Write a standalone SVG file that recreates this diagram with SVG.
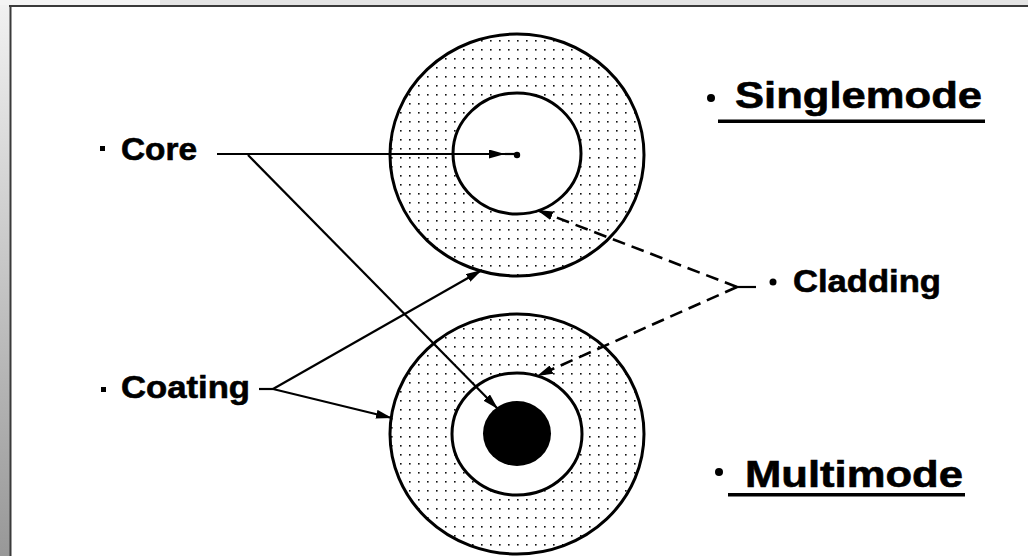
<svg xmlns="http://www.w3.org/2000/svg" width="1028" height="556" viewBox="0 0 1028 556">
  <style>
    .lbl { font-family: "Liberation Sans", Arial, sans-serif; font-weight: bold; fill: #000; stroke: #000; stroke-width: 0.6; }
    .small { font-size: 31px; }
    .big { font-size: 37px; }
    .ring { stroke: #000; stroke-width: 3; }
    .conn { fill: none; stroke: #000; stroke-width: 2.2; }
    .dash { fill: none; stroke: #000; stroke-width: 2.6; stroke-dasharray: 13 7; }
  </style>
  <defs>
    <linearGradient id="sideShade" x1="0" y1="0" x2="0" y2="1">
      <stop offset="0" stop-color="#f2f2f2"/>
      <stop offset="1" stop-color="#989898"/>
    </linearGradient>
    <pattern id="dots" width="9" height="9" patternUnits="userSpaceOnUse">
      <rect width="9" height="9" fill="#fff"/>
      <rect x="4" y="4" width="1.6" height="1.6" fill="#111"/>
    </pattern>
    <marker id="arrow" viewBox="0 0 16 9" refX="16" refY="4.5" markerWidth="16" markerHeight="9" markerUnits="userSpaceOnUse" orient="auto">
      <path d="M0,0 L16,4.5 L0,9 Z" fill="#000"/>
    </marker>
  </defs>

  <!-- window frame -->
  <rect x="0" y="0" width="1028" height="556" fill="#fff"/>
  <rect x="0" y="0" width="10" height="556" fill="url(#sideShade)"/>
  <rect x="0" y="0" width="1028" height="5" fill="#e4e4e4"/>
  <rect x="0" y="0" width="160" height="5" fill="#f4f4f4"/>
  <line x1="9" y1="6" x2="1028" y2="6" stroke="#3a3a3a" stroke-width="2"/>
  <line x1="10.5" y1="5" x2="10.5" y2="556" stroke="#3a3a3a" stroke-width="2"/>

  <!-- singlemode fiber -->
  <g id="singlemode-fiber">
    <ellipse cx="517" cy="155" rx="127" ry="121" fill="url(#dots)" class="ring"/>
    <ellipse cx="517" cy="153.5" rx="64" ry="60.5" fill="#fff" class="ring"/>
    <circle cx="517" cy="155" r="3.2" fill="#000"/>
  </g>

  <!-- multimode fiber -->
  <g id="multimode-fiber">
    <ellipse cx="517" cy="434" rx="127" ry="120" fill="url(#dots)" class="ring"/>
    <ellipse cx="517" cy="434" rx="65" ry="61" fill="#fff" class="ring"/>
    <ellipse cx="517" cy="433.5" rx="34" ry="32.5" fill="#000"/>
  </g>

  <!-- leader lines -->
  <g id="connectors">
    <path class="conn" d="M217,154 L505,154" marker-end="url(#arrow)"/>
    <path class="conn" d="M505,154 L515,154"/>
    <path class="conn" d="M248,155 L498,409" marker-end="url(#arrow)"/>
    <path class="conn" d="M259,389 L273,389"/>
    <path class="conn" d="M273,389 L482,270" marker-end="url(#arrow)"/>
    <path class="conn" d="M273,389 L392,418" marker-end="url(#arrow)"/>
    <path class="conn" d="M737,287 L756,287"/>
    <path class="dash" d="M737,287 L537,210" marker-end="url(#arrow)"/>
    <path class="dash" d="M737,287 L537,376" marker-end="url(#arrow)"/>
  </g>

  <!-- labels -->
  <g id="label-core">
    <rect x="100" y="146" width="5" height="5" fill="#000"/>
    <text class="lbl small" x="121" y="160" textLength="76" lengthAdjust="spacingAndGlyphs">Core</text>
  </g>
  <g id="label-coating">
    <rect x="101" y="387" width="5" height="5" fill="#000"/>
    <text class="lbl small" x="121" y="398" textLength="129" lengthAdjust="spacingAndGlyphs">Coating</text>
  </g>
  <g id="label-cladding">
    <circle cx="773" cy="282" r="3.5" fill="#000"/>
    <text class="lbl small" x="793" y="292" textLength="148" lengthAdjust="spacingAndGlyphs">Cladding</text>
  </g>
  <g id="label-singlemode">
    <circle cx="711" cy="98" r="4" fill="#000"/>
    <text class="lbl big" x="735" y="108" textLength="247" lengthAdjust="spacingAndGlyphs">Singlemode</text>
    <rect x="718" y="119.5" width="267" height="3.5" fill="#000"/>
  </g>
  <g id="label-multimode">
    <circle cx="719" cy="472" r="4" fill="#000"/>
    <text class="lbl big" x="745" y="487" textLength="218" lengthAdjust="spacingAndGlyphs">Multimode</text>
    <rect x="728" y="493" width="237" height="3.5" fill="#000"/>
  </g>
</svg>
